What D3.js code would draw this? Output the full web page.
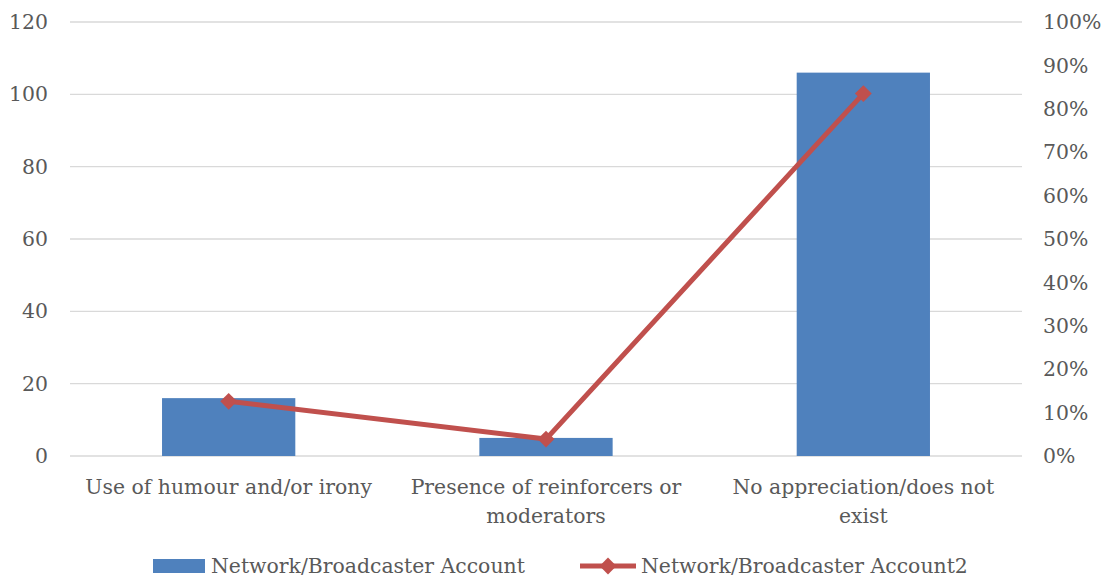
<!DOCTYPE html>
<html><head><meta charset="utf-8">
<script src="https://cdn.jsdelivr.net/npm/d3@7"></script>
<style>body{margin:0;background:#fff}</style>
</head><body>
<script>
const categories = [["Use of humour and/or irony"], ["Presence of reinforcers or", "moderators"], ["No appreciation/does not", "exist"]];
const barValues = [16, 5, 106];
const lineValues = [0.126, 0.039, 0.835];
const leftTicks = [0, 20, 40, 60, 80, 100, 120];
const rightTicks = [0, 0.1, 0.2, 0.3, 0.4, 0.5, 0.6, 0.7, 0.8, 0.9, 1.0];
const seriesNames = ["Network/Broadcaster Account", "Network/Broadcaster Account2"];

const W = 1105, H = 577;
const m = {left: 70, right: 1022, top: 22, bottom: 456};
const font = "'DejaVu Serif', serif";
const fs = 20.4;
const textColor = "#595959";
const svg = d3.select("body").append("svg").attr("width", W).attr("height", H);

const x = d3.scaleBand().domain(d3.range(categories.length)).range([m.left, m.right]).paddingInner(0.58).paddingOuter(0.29);
const y = d3.scaleLinear().domain([0, 120]).range([m.bottom, m.top]);
const y2 = d3.scaleLinear().domain([0, 1]).range([m.bottom, m.top]);

svg.append("g").selectAll("line").data(leftTicks).join("line")
  .attr("x1", m.left).attr("x2", m.right).attr("y1", d => y(d)).attr("y2", d => y(d))
  .attr("stroke", "#d9d9d9").attr("stroke-width", 1.3);

svg.append("g").selectAll("text").data(leftTicks).join("text")
  .attr("x", 48).attr("y", d => y(d)).attr("dy", "0.35em").attr("text-anchor", "end")
  .attr("font-family", font).attr("font-size", fs).attr("fill", textColor).text(d => d);

svg.append("g").selectAll("text").data(rightTicks).join("text")
  .attr("x", 1043).attr("y", d => y2(d)).attr("dy", "0.35em").attr("text-anchor", "start")
  .attr("font-family", font).attr("font-size", fs).attr("fill", textColor).text(d => d3.format(".0%")(d));

svg.append("g").selectAll("rect").data(barValues).join("rect")
  .attr("x", (d, i) => x(i)).attr("width", x.bandwidth())
  .attr("y", d => y(d)).attr("height", d => y(0) - y(d)).attr("fill", "#4f81bd");

const cx = i => x(i) + x.bandwidth() / 2;
svg.append("path").datum(lineValues)
  .attr("d", d3.line().x((d, i) => cx(i)).y(d => y2(d)))
  .attr("fill", "none").attr("stroke", "#c0504d").attr("stroke-width", 5);
const diamond = d3.symbol().type(d3.symbolDiamond2).size(180);
svg.append("g").selectAll("path").data(lineValues).join("path")
  .attr("transform", (d, i) => `translate(${cx(i)},${y2(d)})`)
  .attr("d", diamond).attr("fill", "#c0504d");

const cat = svg.append("g").selectAll("text").data(categories).join("text")
  .attr("x", (d, i) => cx(i)).attr("y", 487).attr("text-anchor", "middle")
  .attr("font-family", font).attr("font-size", fs).attr("fill", textColor);
cat.selectAll("tspan").data(d => d).join("tspan")
  .attr("x", function() { return d3.select(this.parentNode).attr("x"); })
  .attr("dy", (d, i) => i === 0 ? "0.35em" : "1.42em").text(d => d);

const lg = svg.append("g");
lg.append("rect").attr("x", 153).attr("y", 559).attr("width", 52).attr("height", 14).attr("fill", "#4f81bd");
lg.append("text").attr("x", 211).attr("y", 566).attr("dy", "0.35em").attr("font-family", font).attr("font-size", fs).attr("fill", textColor).text(seriesNames[0]);
lg.append("line").attr("x1", 580).attr("x2", 636).attr("y1", 566).attr("y2", 566).attr("stroke", "#c0504d").attr("stroke-width", 5);
lg.append("path").attr("transform", "translate(608,566)").attr("d", diamond).attr("fill", "#c0504d");
lg.append("text").attr("x", 641).attr("y", 566).attr("dy", "0.35em").attr("font-family", font).attr("font-size", fs).attr("fill", textColor).text(seriesNames[1]);
</script>
</body></html>
